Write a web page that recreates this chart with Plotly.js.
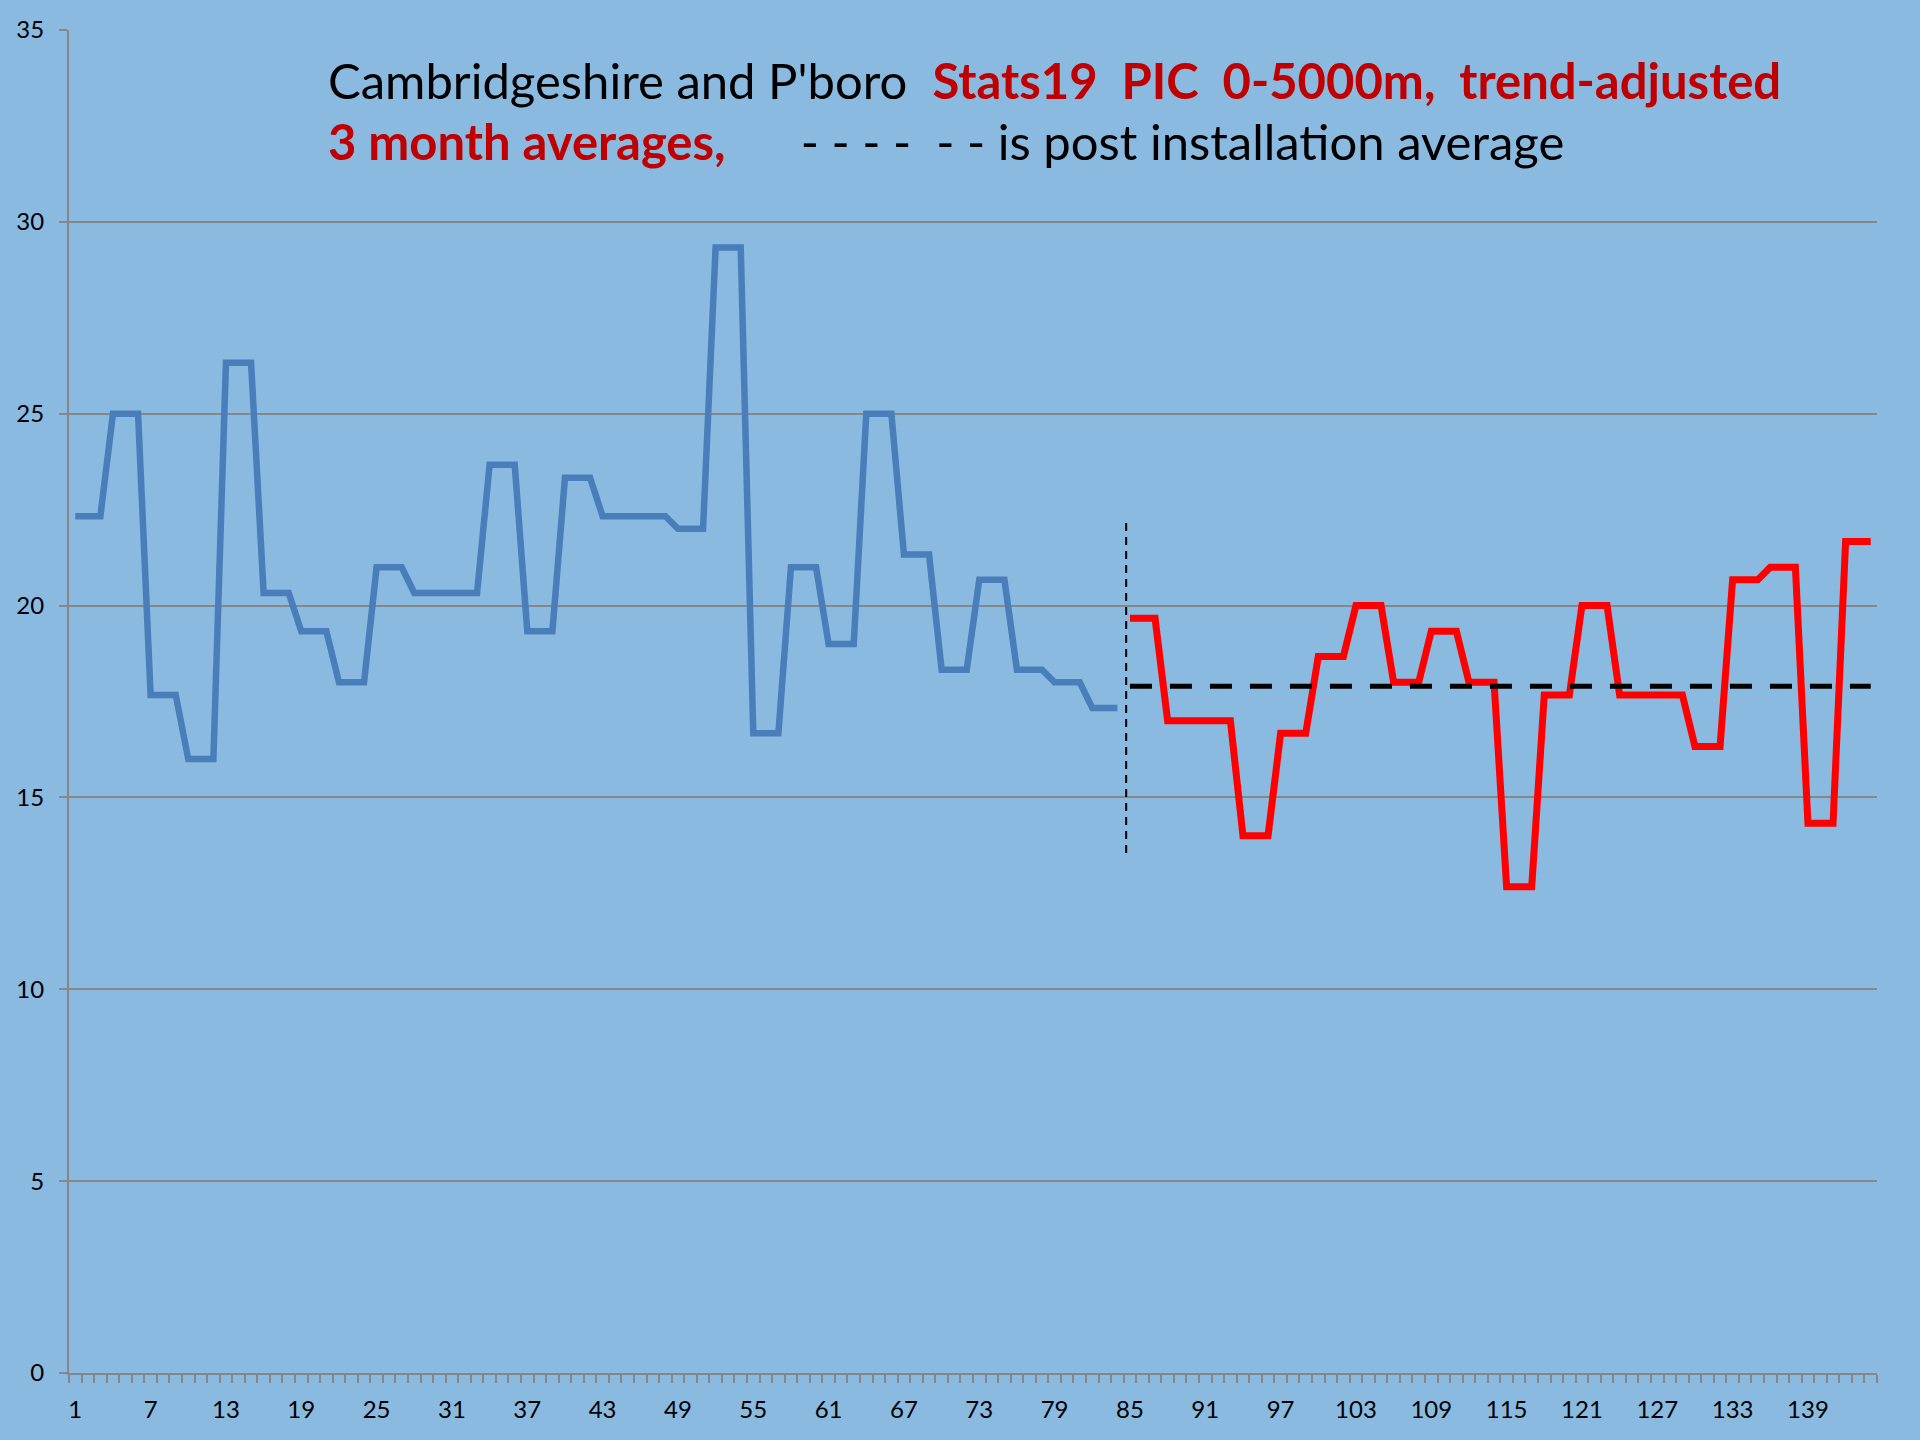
<!DOCTYPE html>
<html>
<head>
<meta charset="utf-8">
<script src="https://cdn.plot.ly/plotly-3.0.1.min.js"></script>
<style>html,body{margin:0;padding:0;background:#8ABAE0;}#chart{width:1920px;height:1440px;}</style>
</head>
<body>
<div id="chart"></div>
<script>
// Before installation (months 1-84)
const blueMonths = [1,2,3,4,5,6,7,8,9,10,11,12,13,14,15,16,17,18,19,20,21,22,23,24,25,26,27,28,29,30,31,32,33,34,35,36,37,38,39,40,41,42,43,44,45,46,47,48,49,50,51,52,53,54,55,56,57,58,59,60,61,62,63,64,65,66,67,68,69,70,71,72,73,74,75,76,77,78,79,80,81,82,83,84];
const blueValues = [22.33,22.33,22.33,25,25,25,17.67,17.67,17.67,16,16,16,26.33,26.33,26.33,20.33,20.33,20.33,19.33,19.33,19.33,18,18,18,21,21,21,20.33,20.33,20.33,20.33,20.33,20.33,23.67,23.67,23.67,19.33,19.33,19.33,23.33,23.33,23.33,22.33,22.33,22.33,22.33,22.33,22.33,22,22,22,29.33,29.33,29.33,16.67,16.67,16.67,21,21,21,19,19,19,25,25,25,21.33,21.33,21.33,18.33,18.33,18.33,20.67,20.67,20.67,18.33,18.33,18.33,18,18,18,17.33,17.33,17.33];
// After installation (months 85-144)
const redMonths = [85,86,87,88,89,90,91,92,93,94,95,96,97,98,99,100,101,102,103,104,105,106,107,108,109,110,111,112,113,114,115,116,117,118,119,120,121,122,123,124,125,126,127,128,129,130,131,132,133,134,135,136,137,138,139,140,141,142,143,144];
const redValues = [19.67,19.67,19.67,17,17,17,17,17,17,14,14,14,16.67,16.67,16.67,18.67,18.67,18.67,20,20,20,18,18,18,19.33,19.33,19.33,18,18,18,12.67,12.67,12.67,17.67,17.67,17.67,20,20,20,17.67,17.67,17.67,17.67,17.67,17.67,16.33,16.33,16.33,20.67,20.67,20.67,21,21,21,14.33,14.33,14.33,21.67,21.67,21.67];
// Post installation average
const avgMonths = [85, 144];
const avgValues = [17.9, 17.9];
// Installation marker
const markerMonths = [84.7, 84.7];
const markerValues = [13.55, 22.15];
// Tick labels
const tickMonths = [1,7,13,19,25,31,37,43,49,55,61,67,73,79,85,91,97,103,109,115,121,127,133,139];
const tickLabels = tickMonths.map(String);
const yTicks = [0,5,10,15,20,25,30,35];

const FONT = 'Lato, "Noto Sans", sans-serif';

const traces = [
  {x: blueMonths, y: blueValues, type: 'scatter', mode: 'lines',
   line: {color: '#4A7EBB', width: 6.5}, hoverinfo: 'x+y'},
  {x: redMonths, y: redValues, type: 'scatter', mode: 'lines',
   line: {color: '#FF0000', width: 7}, hoverinfo: 'x+y'},
  {x: avgMonths, y: avgValues, type: 'scatter', mode: 'lines',
   line: {color: '#000000', width: 5, dash: '22px,18px'}, hoverinfo: 'y'},
  {x: markerMonths, y: markerValues, type: 'scatter', mode: 'lines',
   line: {color: '#000000', width: 2, dash: '8px,6px'}, hoverinfo: 'none'}
];

const layout = {
  width: 1920, height: 1440,
  paper_bgcolor: '#8ABAE0', plot_bgcolor: '#8ABAE0',
  showlegend: false,
  margin: {l: 69, r: 43, t: 30, b: 67},
  font: {family: FONT, color: '#000000'},
  xaxis: {
    range: [0.5, 144.5], showgrid: false, zeroline: false,
    showline: true, linecolor: '#878787', linewidth: 2,
    tickmode: 'array', tickvals: tickMonths, ticktext: tickLabels,
    ticks: '', ticklabelstandoff: 14,
    tickfont: {family: FONT, size: 24, color: '#000000'},
    minor: {tickmode: 'linear', tick0: 0.5, dtick: 1, ticks: 'outside', ticklen: 8, tickwidth: 2, tickcolor: '#878787', showgrid: false}
  },
  yaxis: {
    range: [0, 35], tickmode: 'array', tickvals: yTicks,
    showgrid: true, gridcolor: '#878787', gridwidth: 2, zeroline: false,
    showline: true, linecolor: '#878787', linewidth: 2,
    ticks: 'outside', ticklen: 8, tickwidth: 2, tickcolor: '#878787',
    ticklabelstandoff: 10,
    tickfont: {family: FONT, size: 24, color: '#000000'}
  },
  annotations: [
    {xref: 'paper', yref: 'paper', x: 0.1420, y: 0.9625, xanchor: 'left', yanchor: 'middle', showarrow: false,
     align: 'left',
     font: {family: FONT, size: 49, color: '#000000'},
     text: 'Cambridgeshire and P\'boro&nbsp; <span style="color:#C00000"><b>Stats19&nbsp; PIC&nbsp; 0-5000m,&nbsp; trend-adjusted</b></span>'},
    {xref: 'paper', yref: 'paper', x: 0.1420, y: 0.9175, xanchor: 'left', yanchor: 'middle', showarrow: false,
     align: 'left',
     font: {family: FONT, size: 49, color: '#000000'},
     text: '<span style="color:#C00000"><b>3 month averages,</b></span>&nbsp;&nbsp;&nbsp;&nbsp;&nbsp; - - - -&nbsp; - - is post installation average'}
  ]
};

Plotly.newPlot('chart', traces, layout, {displayModeBar: false, staticPlot: true});
</script>
</body>
</html>
